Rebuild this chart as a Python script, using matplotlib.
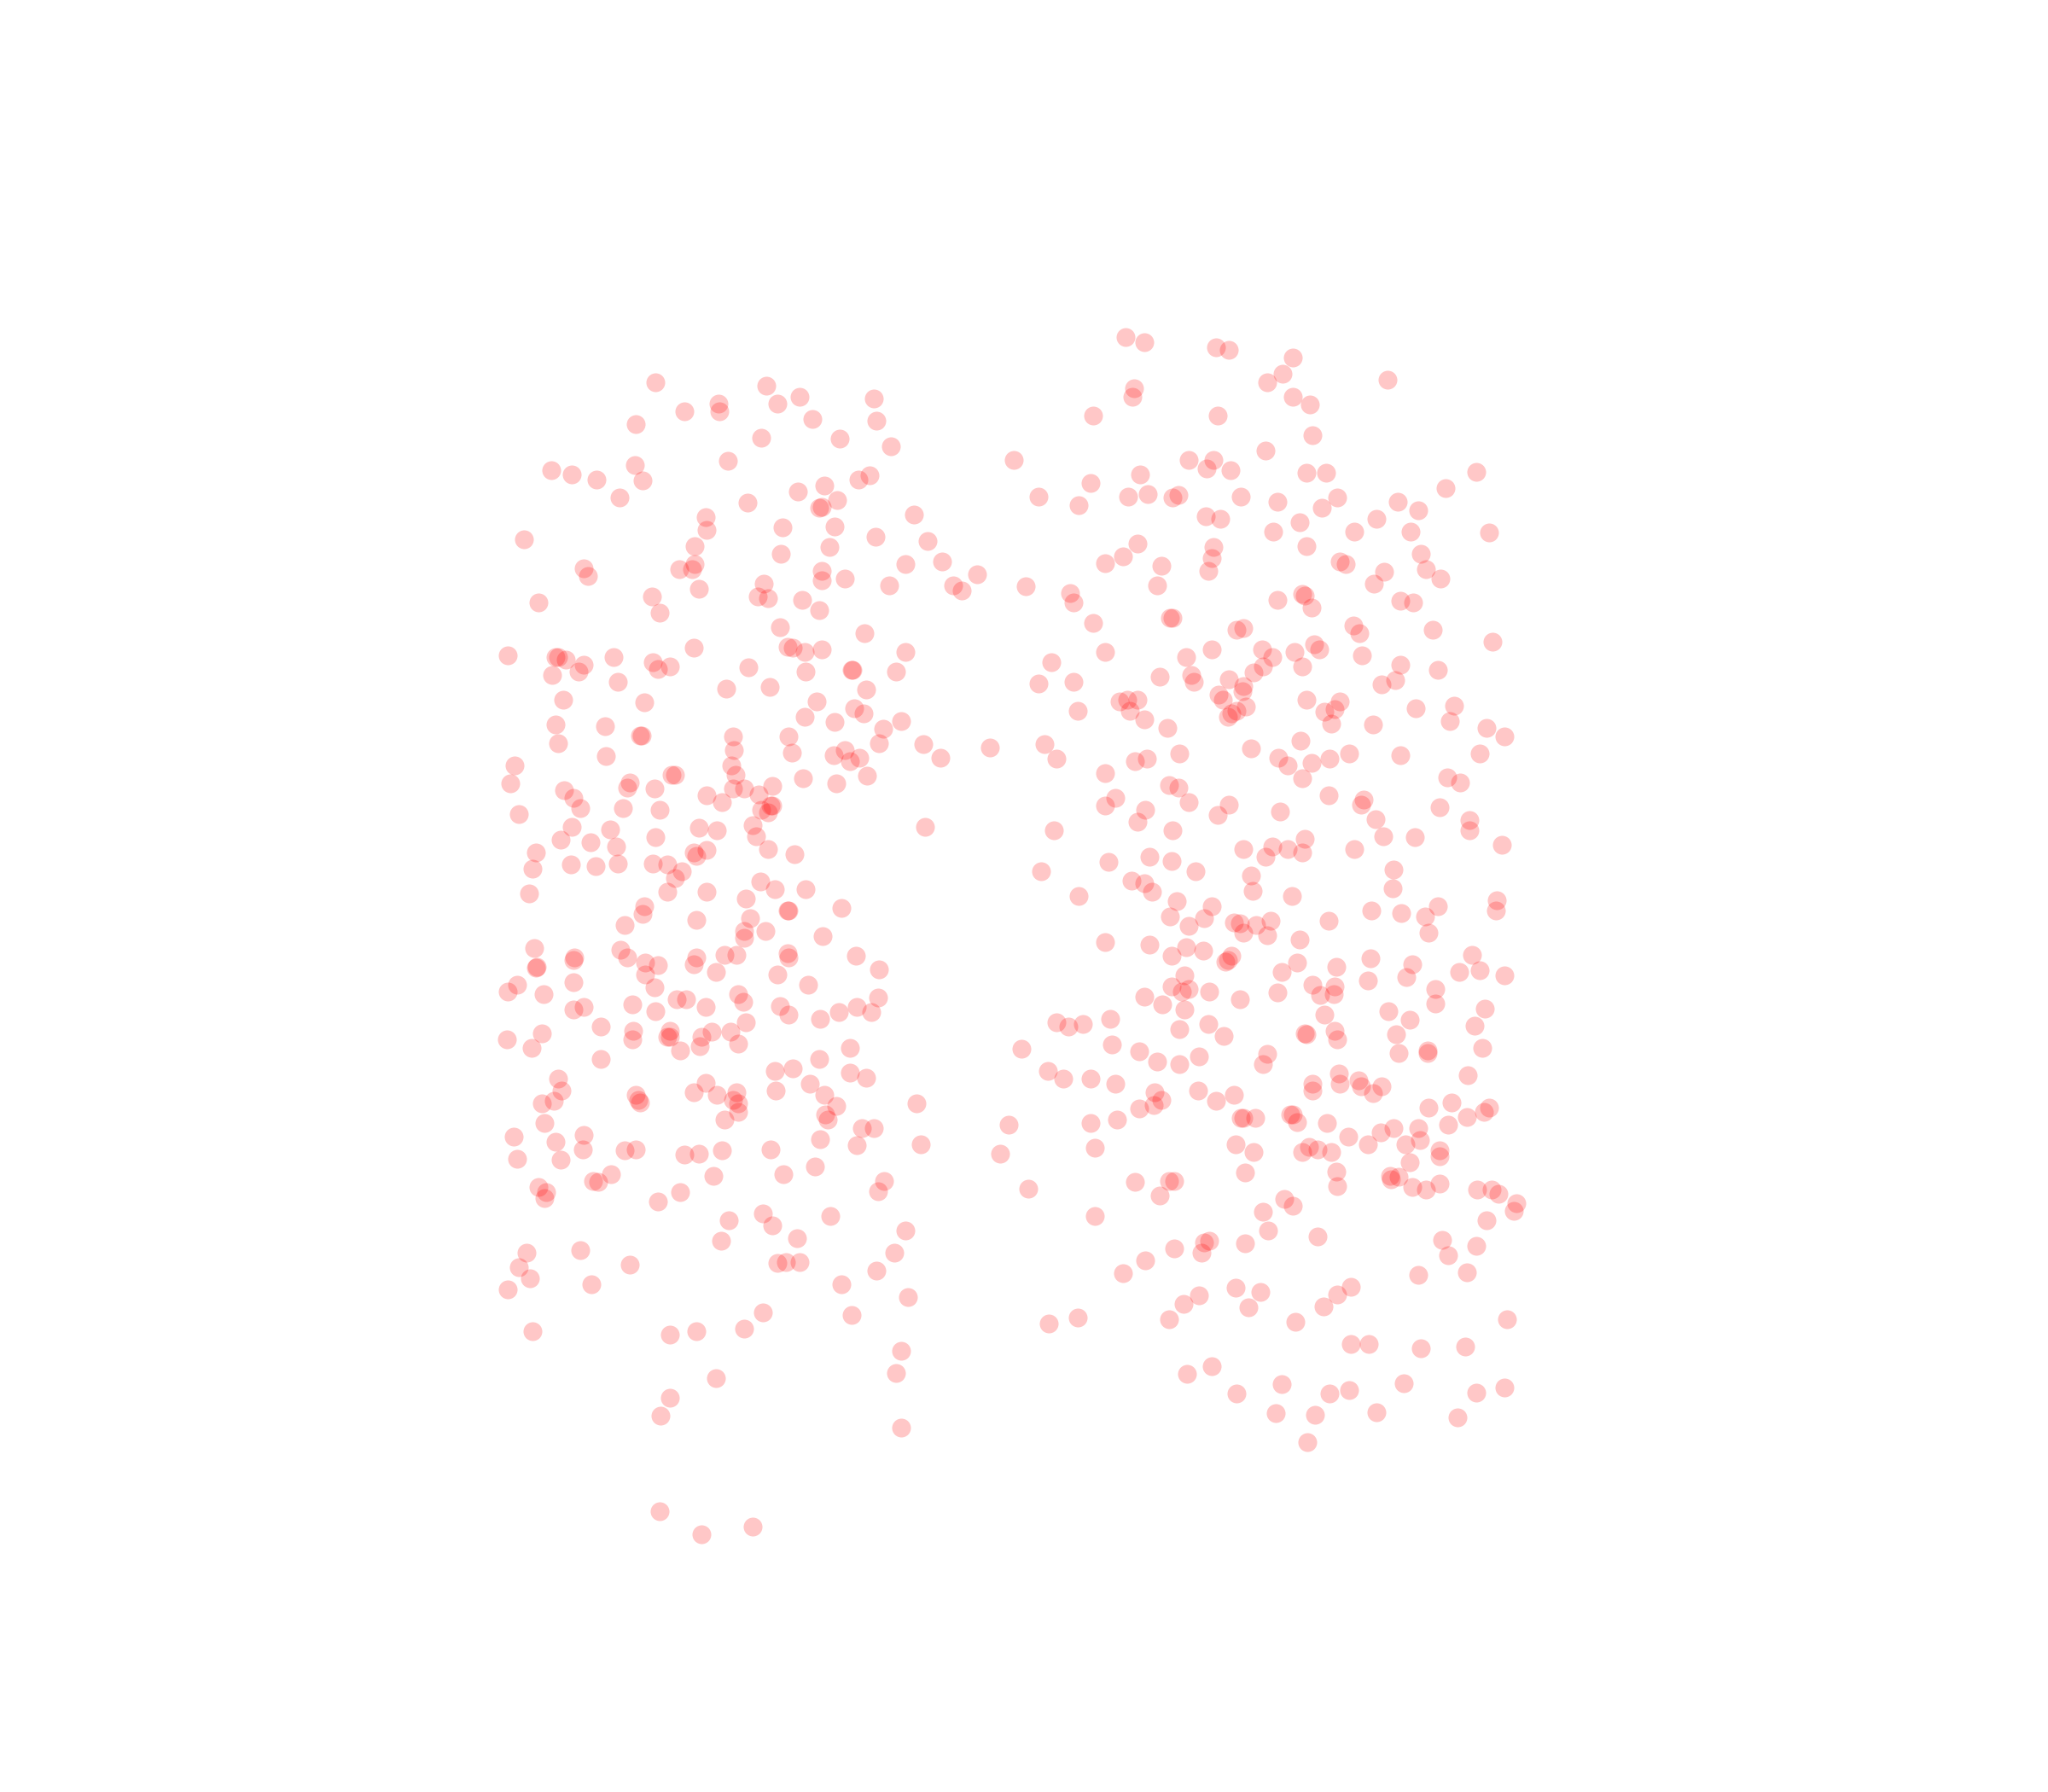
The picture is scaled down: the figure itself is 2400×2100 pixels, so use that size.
import matplotlib
matplotlib.use("Agg")
import matplotlib.pyplot as plt

left_points = [
(502,293),(587,295),(612,304),(669,305),(550,309),(595,309),(524,315),(551,315),(622,321),(671,322),(487,325),(583,335),(643,336),(682,342),(557,353),(486,356),(422,360),(438,363),(457,367),(492,368),(657,367),(666,364),(631,372),(611,376),(474,381),(572,385),(641,383),(629,388),(627,389),(540,396),(700,394),(599,404),(639,403),(541,406),(401,413),(670,411),(710,414),(532,418),(635,419),(598,424),(721,430),(447,435),(450,441),(520,436),(530,436),(532,432),(629,437),(629,444),(647,443),(693,432),(748,440),(730,448),(736,452),(681,448),(585,447),(535,451),(499,457),(412,461),(580,457),(588,458),(614,459),(627,467),(505,469),(597,480),(662,485),(389,502),(425,503),(427,503),(433,505),(531,496),(603,495),(607,496),(616,499),(629,497),(693,499),(470,503),(447,509),(443,514),(500,507),(504,512),(513,510),(573,511),(617,514),(652,513),(653,513),(686,514),(423,517),(473,522),(556,527),(589,526),(663,528),(431,536),(493,538),(625,537),(654,542),(661,546),(425,555),(463,556),(616,549),(639,553),(676,558),(690,552),(427,569),(490,563),(491,563),(561,564),(604,564),(673,569),(707,570),(758,572),(464,579),(562,574),(606,576),(638,578),(647,574),(658,580),(651,583),(720,580),(394,586),(560,586),(563,593),(514,593),(517,593),(615,596),(664,594),(391,600),(482,599),(480,603),(432,605),(501,604),(561,604),(570,604),(591,602),(640,600),(541,609),(553,614),(581,608),(439,611),(444,619),(477,619),(505,620),(397,623),(583,620),(590,617),(591,617),(588,622),(576,632),(708,633),(438,633),(467,635),(535,634),(549,636),(429,643),(452,645),(472,648),(502,641),(579,640),(588,650),(410,653),(531,653),(533,655),(541,651),(608,654),(408,665),(437,662),(456,663),(473,661),(500,661),(511,662),(522,667),(517,672),(582,675),(593,681),(617,681),(405,684),(511,683),(541,683),(571,688),(493,694),(492,700),(604,697),(603,697),(644,695),(533,704),(574,703),(478,708),(570,713),(586,713),(570,718),(630,717),(409,726),(475,727),(480,733),(603,730),(604,733),(655,732),(440,733),(439,735),(411,740),(410,741),(494,737),(504,739),(533,733),(531,738),(555,731),(564,731),(548,744),(595,746),(673,742),(494,746),(396,754),(439,752),(389,759),(416,761),(501,756),(619,754),(565,761),(569,767),(518,765),(525,765),(672,764),(484,769),(439,773),(447,771),(540,771),(597,770),(656,771),(667,775),(604,777),(628,780),(642,775),(502,774),(571,783),(460,786),(485,789),(415,791),(484,796),(388,796),(513,789),(511,794),(513,794),(537,794),(545,790),(559,790),(536,801),(521,804),(565,799),(651,802),(407,802),(460,811),(627,811),(593,820),(607,818),(651,821),(663,825),(427,826),(620,830),(430,835),(540,829),(531,836),(487,838),(489,842),(490,844),(549,838),(564,836),(594,835),(631,838),(415,845),(424,843),(561,842),(565,845),(640,847),(702,845),(565,851),(632,853),(634,857),(555,857),(417,860),(660,864),(669,864),(393,870),(447,869),(425,874),(628,872),(656,877),(705,876),(446,880),(478,881),(487,880),(524,884),(535,883),(553,881),(590,880),(396,887),(429,888),(624,893),(468,899),(546,900),(600,899),(454,904),(458,905),(677,904),(412,909),(418,913),(417,917),(672,912),(521,913),(504,920),(584,929),(558,934),(636,931),(591,938),(693,942),(552,950),(610,948),(444,957),(403,959),(685,959),(397,970),(482,968),(595,967),(602,966),(612,966),(671,973),(406,979),(453,983),(389,987),(644,983),(695,993),(584,1005),(652,1007),(408,1019),(513,1022),(533,1019),(570,1017),(690,1034),(686,1051),(548,1055),(513,1070),(506,1084),(690,1093),(505,1157),(537,1175),(576,1169),
]
right_points = [
(862,258),(876,262),(931,266),(941,268),(990,274),(982,286),(970,293),(1062,291),(868,297),(867,304),(990,304),(1003,310),(837,318),(932,318),(1005,333),(969,345),(776,352),(910,352),(929,352),(924,359),(942,360),(1000,362),(1015,362),(873,363),(1130,361),(835,370),(795,380),(864,380),(879,378),(898,381),(902,379),(950,380),(1024,381),(978,384),(1070,384),(1107,374),(826,387),(1012,389),(1086,391),(923,395),(934,397),(995,400),(1054,397),(975,407),(1037,407),(1080,407),(1140,408),(929,419),(871,416),(1000,418),(860,426),(846,431),(928,427),(1088,424),(889,433),(925,437),(1026,430),(1030,432),(1060,438),(1092,436),(1103,443),(785,449),(886,448),(1052,447),(819,454),(822,461),(997,455),(999,456),(978,459),(1072,460),(1082,461),(1004,465),(896,473),(898,473),(837,477),(1036,479),(947,482),(952,481),(1041,485),(1097,482),(1143,491),(846,499),(928,497),(966,497),(991,499),(1006,493),(1010,497),(1043,502),(908,503),(974,503),(805,507),(967,510),(997,510),(1072,509),(960,515),(1101,513),(888,518),(912,517),(914,522),(941,520),(795,523),(822,522),(1058,524),(1068,521),(952,525),(951,529),(933,532),(936,536),(857,537),(863,536),(871,536),(865,544),(825,544),(1000,536),(1026,537),(1084,542),(1113,540),(954,541),(947,544),(943,546),(940,549),(1014,545),(1022,543),(1019,554),(1051,555),(876,551),(894,557),(1110,552),(1138,557),(1152,564),(800,570),(958,573),(996,567),(809,581),(903,577),(878,581),(869,583),(979,580),(1018,581),(1033,577),(1072,578),(1133,577),(986,586),(1004,584),(846,592),(997,596),(1108,595),(1118,599),(895,601),(902,603),(854,611),(846,617),(910,614),(941,616),(1017,609),(1044,612),(1042,616),(877,620),(980,621),(932,624),(871,629),(1102,618),(1053,627),(1125,628),(1125,636),(807,636),(898,636),(1059,640),(1083,641),(952,650),(974,648),(986,650),(999,642),(997,653),(1037,650),(1150,647),(969,656),(880,656),(849,660),(897,659),(797,667),(915,667),(958,670),(1067,666),(866,674),(876,676),(882,683),(959,682),(1066,680),(826,686),(989,686),(901,690),(928,694),(1146,689),(1145,697),(1050,697),(1073,699),(1101,694),(896,702),(922,703),(1017,705),(1091,702),(945,706),(949,707),(962,708),(973,705),(910,709),(952,714),(970,716),(1094,714),(846,721),(880,723),(995,719),(908,725),(921,728),(897,732),(938,736),(943,732),(940,735),(1127,731),(993,737),(1049,734),(1023,740),(1081,738),(1117,744),(1133,743),(1152,747),(981,744),(1077,748),(907,747),(1047,751),(897,755),(905,759),(910,757),(926,759),(1005,754),(1022,755),(1021,761),(1011,762),(1099,757),(876,763),(949,765),(978,760),(1099,768),(890,769),(907,773),(1063,774),(1014,777),(1137,772),(850,780),(809,783),(818,786),(829,784),(925,784),(903,788),(1079,781),(1129,785),(937,793),(1022,789),(1024,796),(999,791),(1000,792),(1069,792),(851,800),(782,803),(872,805),(970,807),(1071,806),(1093,804),(1093,806),(1135,802),(886,813),(903,815),(918,809),(967,815),(802,820),(814,826),(835,826),(854,830),(1025,822),(1040,827),(1026,830),(1005,830),(1005,835),(1042,832),(1051,837),(1058,832),(1124,823),(884,836),(917,835),(945,838),(1111,844),(883,846),(889,842),(872,849),(931,843),(1094,848),(1140,848),(1136,851),(1123,855),(855,857),(835,860),(772,861),(950,856),(952,856),(961,856),(988,853),(990,853),(993,859),(1016,860),(1057,867),(1067,864),(1109,861),(1086,864),(1032,870),(1047,876),(1076,876),(1087,873),(838,879),(946,876),(960,882),(1002,878),(997,882),(1009,880),(1019,882),(1102,881),(1102,885),(1079,890),(766,883),(953,898),(1023,897),(1064,900),(1065,903),(1071,901),(1102,906),(869,905),(895,904),(899,904),(787,910),(1024,908),(1081,909),(1092,911),(1131,911),(1142,911),(1147,914),(888,915),(983,918),(990,923),(1161,921),(1159,927),(967,928),(838,931),(1138,934),(971,942),(1009,947),(1104,949),(926,950),(922,951),(953,952),(899,956),(920,959),(1130,954),(1109,961),(877,965),(860,975),(1086,976),(1123,974),(1034,985),(946,986),(918,992),(965,989),(1024,991),(906,998),(956,1001),(1013,1000),(895,1010),(992,1012),(825,1009),(803,1013),(1154,1010),(1034,1029),(1048,1029),(1088,1032),(1122,1031),(928,1046),(909,1052),(981,1060),(1075,1059),(1033,1064),(1018,1067),(947,1067),(1130,1066),(1152,1062),(977,1082),(1007,1083),(1054,1081),(1116,1085),(1001,1104),
]

fig = plt.figure(figsize=(8, 7), dpi=300, facecolor="white")
ax = fig.add_axes([0, 0, 1, 1])
ax.set_xlim(0, 1568)
ax.set_ylim(1372, 0)
ax.axis("off")
for pts in (left_points, right_points):
    xs, ys = zip(*pts)
    ax.scatter(xs, ys, s=28, color="red", alpha=0.22, linewidths=0)
fig.savefig("out.png", dpi=300)
